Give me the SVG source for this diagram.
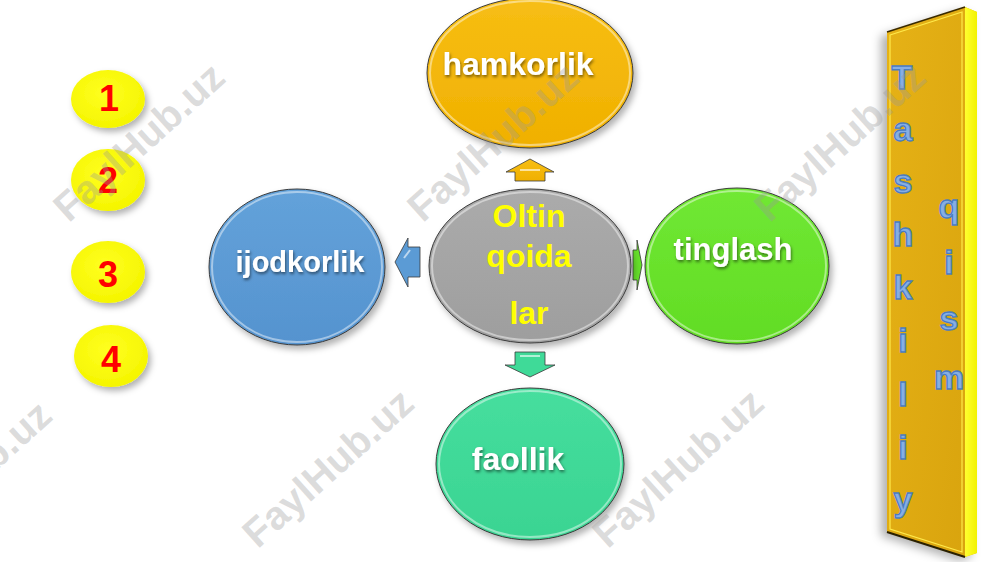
<svg xmlns="http://www.w3.org/2000/svg" width="1000" height="562" viewBox="0 0 1000 562">
<defs>
  <filter id="sh" x="-20%" y="-20%" width="140%" height="140%">
    <feDropShadow dx="3" dy="4" stdDeviation="3" flood-color="#000" flood-opacity="0.3"/>
  </filter>
  <filter id="tsh" x="-10%" y="-20%" width="120%" height="150%">
    <feDropShadow dx="1" dy="2" stdDeviation="1.5" flood-color="#000" flood-opacity="0.5"/>
  </filter>
  <filter id="psh" x="-40%" y="-10%" width="180%" height="120%">
    <feDropShadow dx="-6" dy="4" stdDeviation="5" flood-color="#000" flood-opacity="0.3"/>
  </filter>
  <linearGradient id="gOr" x1="0" y1="0" x2="0" y2="1"><stop offset="0" stop-color="#F7BE14"/><stop offset="1" stop-color="#F0B000"/></linearGradient>
  <linearGradient id="gGr" x1="0" y1="0" x2="0" y2="1"><stop offset="0" stop-color="#ABABAB"/><stop offset="1" stop-color="#9E9E9E"/></linearGradient>
  <linearGradient id="gGn" x1="0" y1="0" x2="0" y2="1"><stop offset="0" stop-color="#70E834"/><stop offset="1" stop-color="#62DC24"/></linearGradient>
  <linearGradient id="gTl" x1="0" y1="0" x2="0" y2="1"><stop offset="0" stop-color="#46DE9E"/><stop offset="1" stop-color="#3AD492"/></linearGradient>
  <linearGradient id="gBl" x1="0" y1="0" x2="0" y2="1"><stop offset="0" stop-color="#63A2DA"/><stop offset="1" stop-color="#5593CF"/></linearGradient>
  <linearGradient id="gPanel" x1="0" y1="0" x2="1" y2="1"><stop offset="0" stop-color="#E6B216"/><stop offset="1" stop-color="#D9A40E"/></linearGradient>
  <linearGradient id="gSide" x1="0" y1="0" x2="1" y2="0"><stop offset="0" stop-color="#FFFF30"/><stop offset="1" stop-color="#F2F200"/></linearGradient>
  <radialGradient id="gNum" cx="0.45" cy="0.4" r="0.6"><stop offset="0" stop-color="#FFFF20"/><stop offset="1" stop-color="#F5F500"/></radialGradient>
</defs>
<style>
  .node { stroke: #3a3a3a; stroke-width: 1; }
  .rim { fill: none; stroke: #ffffff; stroke-opacity: 0.45; stroke-width: 2; }
  .lbl { font-family: "Liberation Sans", Arial, sans-serif; font-weight: bold; fill: #ffffff; text-anchor: middle; }
  .gold { font-family: "Liberation Sans", Arial, sans-serif; font-weight: bold; fill: #FFFF00; text-anchor: middle; font-size: 32px; }
  .num { font-family: "Liberation Sans", Arial, sans-serif; font-weight: bold; fill: #FF0000; text-anchor: middle; font-size: 36px; }
  .vl { font-family: "Liberation Sans", Arial, sans-serif; font-weight: bold; fill: #86AEE4; stroke: #4A7CC0; stroke-width: 1.3; text-anchor: middle; font-size: 34px; }
  .arr { stroke: #3a3a3a; stroke-width: 0.8; }
  .wm { font-family: "Liberation Sans", Arial, sans-serif; font-weight: bold; font-size: 40px; fill: #9a9a9a; fill-opacity: 0.35; text-anchor: middle; }
</style>
<rect x="0" y="0" width="1000" height="562" fill="#ffffff"/>

<g id="numbers">
  <g id="n1"><ellipse cx="108" cy="99" rx="37" ry="29" fill="url(#gNum)" filter="url(#sh)"/><text class="num" x="109" y="111">1</text></g>
  <g id="n2"><ellipse cx="108" cy="180" rx="37" ry="31" fill="url(#gNum)" filter="url(#sh)"/><text class="num" x="108" y="193">2</text></g>
  <g id="n3"><ellipse cx="108" cy="272" rx="37" ry="31" fill="url(#gNum)" filter="url(#sh)"/><text class="num" x="108" y="287">3</text></g>
  <g id="n4"><ellipse cx="111" cy="356" rx="37" ry="31" fill="url(#gNum)" filter="url(#sh)"/><text class="num" x="111" y="372">4</text></g>
</g>

<g id="connectors">
  <polygon class="arr" fill="url(#gOr)" points="530,159 554,172 545,172 545,181 515,181 515,172 506,172"/>
  <path d="M520,170 L540,170" stroke="#fff" stroke-opacity="0.6" stroke-width="2"/>
  <polygon class="arr" fill="#5B9BD5" points="395,262 408,238 408,247 420,247 420,277 408,277 408,287"/>
  <path d="M404,258 L410,250" stroke="#fff" stroke-opacity="0.6" stroke-width="2"/>
  <polygon class="arr" fill="#66E02A" points="642,265 637,240 637,250 633,250 633,280 637,280 637,290"/>
  <polygon class="arr" fill="#3FDA98" points="515,352 545,352 545,365 555,365 530,377 505,365 515,365"/>
  <path d="M520,356 L540,356" stroke="#fff" stroke-opacity="0.6" stroke-width="2"/>
</g>

<g id="hamkorlik">
  <ellipse class="node" cx="530" cy="73" rx="103" ry="75" fill="url(#gOr)" filter="url(#sh)"/>
  <ellipse class="rim" cx="530" cy="73" rx="100" ry="72"/>
  <text class="lbl" x="518" y="75" font-size="32" filter="url(#tsh)">hamkorlik</text>
</g>

<g id="center">
  <ellipse class="node" cx="530" cy="266" rx="101" ry="77" fill="url(#gGr)" filter="url(#sh)"/>
  <ellipse class="rim" cx="530" cy="266" rx="98" ry="74"/>
  <text class="gold" x="529" y="227">Oltin</text>
  <text class="gold" x="529" y="267">qoida</text>
  <text class="gold" x="529" y="324">lar</text>
</g>

<g id="tinglash">
  <ellipse class="node" cx="737" cy="266" rx="92" ry="78" fill="url(#gGn)" filter="url(#sh)"/>
  <ellipse class="rim" cx="737" cy="266" rx="89" ry="75"/>
  <text class="lbl" x="733" y="260" font-size="31" filter="url(#tsh)">tinglash</text>
</g>

<g id="faollik">
  <ellipse class="node" cx="530" cy="464" rx="94" ry="76" fill="url(#gTl)" filter="url(#sh)"/>
  <ellipse class="rim" cx="530" cy="464" rx="91" ry="73"/>
  <text class="lbl" x="518" y="470" font-size="32" filter="url(#tsh)">faollik</text>
</g>

<g id="ijodkorlik">
  <ellipse class="node" cx="297" cy="267" rx="88" ry="78" fill="url(#gBl)" filter="url(#sh)"/>
  <ellipse class="rim" cx="297" cy="267" rx="85" ry="75"/>
  <text class="lbl" x="300" y="272" font-size="29" filter="url(#tsh)">ijodkorlik</text>
</g>

<g id="panel">
  <polygon points="887,32 965,7 977,12 977,553 965,557 887,532" fill="#E0AC12" filter="url(#psh)"/>
  <polygon points="965,7 977,12 977,553 965,557" fill="url(#gSide)"/>
  <polygon points="887,32 965,7 965,557 887,532" fill="url(#gPanel)"/>
  <polygon points="890,35 962,12 962,552 890,529" fill="none" stroke="#FFE94A" stroke-width="1.2"/>
  <line x1="887" y1="32" x2="965" y2="7" stroke="#3a2a00" stroke-width="1.5"/>
  <line x1="887" y1="532" x2="965" y2="557" stroke="#2a2000" stroke-width="2"/>
  <text class="vl" x="902" y="89">T</text>
  <text class="vl" x="903" y="141">a</text>
  <text class="vl" x="903" y="193">s</text>
  <text class="vl" x="903" y="246">h</text>
  <text class="vl" x="903" y="299">k</text>
  <text class="vl" x="903" y="352">i</text>
  <text class="vl" x="903" y="406">l</text>
  <text class="vl" x="903" y="459">i</text>
  <text class="vl" x="903" y="511">y</text>
  <text class="vl" x="949" y="218">q</text>
  <text class="vl" x="949" y="274">i</text>
  <text class="vl" x="949" y="330">s</text>
  <text class="vl" x="949" y="389">m</text>
</g>

<g id="watermarks">
  <text class="wm" transform="translate(148,152) rotate(-42)">FaylHub.uz</text>
  <text class="wm" transform="translate(502,152) rotate(-42)">FaylHub.uz</text>
  <text class="wm" transform="translate(849,152) rotate(-42)">FaylHub.uz</text>
  <text class="wm" transform="translate(-25,490) rotate(-42)">FaylHub.uz</text>
  <text class="wm" transform="translate(337,478) rotate(-42)">FaylHub.uz</text>
  <text class="wm" transform="translate(687,478) rotate(-42)">FaylHub.uz</text>
</g>
</svg>
